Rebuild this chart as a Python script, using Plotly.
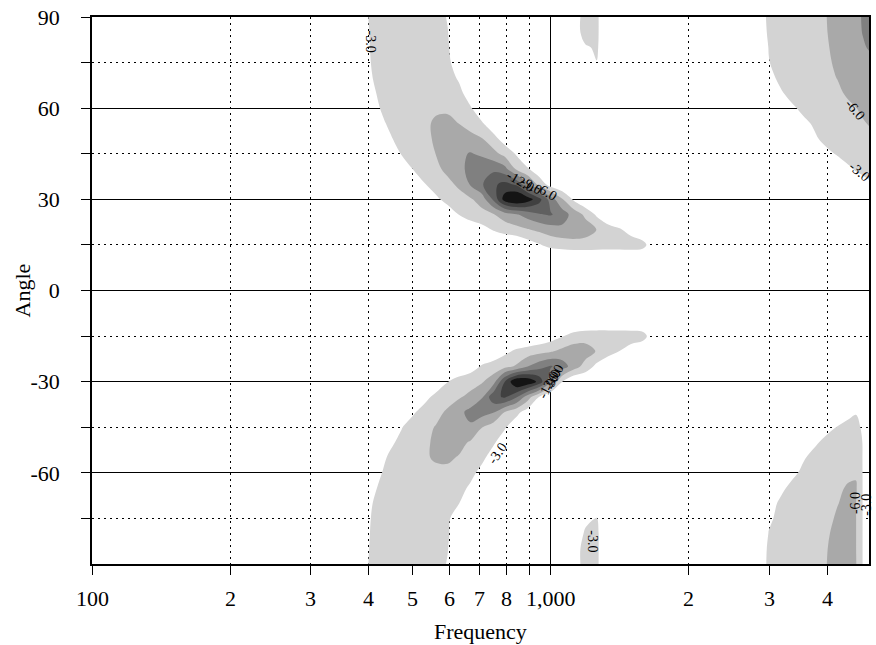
import math
import plotly.graph_objects as go

# ---- data -----------------------------------------------------------------
freqs_hz = [376, 398, 422, 447, 473, 501, 531, 562, 596,
            631, 668, 708, 750, 794, 841, 891, 944, 1000, 1059,
            1122, 1189, 1259, 1334, 1413, 1496, 1585, 1679,
            2818, 2985, 3162, 3350, 3548, 3758, 3981, 4217, 4467, 4624, 4786, 4938]

angles_deg = [-90, -85, -80, -75, -70, -65, -60, -55, -50, -45, -40, -35, -30,
              -25, -20, -15, -10, -5, 0, 5, 10, 15, 20, 25, 30, 35, 40, 45,
              50, 55, 60, 65, 70, 75, 80, 85, 90]

# level (dB) per angle row (ascending angle), per frequency column
level_db = [
    # -90
    [0, -2.9, -4.0, -4.4, -4.5, -4.5, -4.4, -4.2, -2.8,
     0, 0, 0, 0, 0, 0, 0, 0, 0, 0,
     -1.5, -4.1, -3.4, -1.0, 0, 0, 0, 0,
     0, -3.8, -4.4, -4.9, -5.3, -5.6, -5.95, -6.7, -7.2, -6.2, -2.9, 0],
    # -85
    [0, -2.8, -4.0, -4.4, -4.5, -4.5, -4.4, -4.3, -3.1,
     -0.5, 0, 0, 0, 0, 0, 0, 0, 0, 0,
     -1.5, -4.1, -3.4, -1.0, 0, 0, 0, 0,
     0, -3.6, -4.3, -4.8, -5.2, -5.5, -5.9, -6.6, -7.0, -6.1, -2.9, 0],
    # -80
    [0, -2.7, -4.0, -4.4, -4.6, -4.6, -4.5, -4.3, -3.4,
     -0.5, 0, 0, 0, 0, 0, 0, 0, 0, 0,
     -1.3, -3.3, -3.4, -1.0, 0, 0, 0, 0,
     0, -3.1, -4.1, -4.6, -5.0, -5.4, -5.8, -6.4, -6.8, -6.1, -2.9, 0],
    # -75
    [0, -2.6, -3.9, -4.3, -4.5, -4.6, -4.5, -4.2, -3.5,
     -1.2, 0, 0, 0, 0, 0, 0, 0, 0, 0,
     -0.5, -2.5, -3.1, -0.8, 0, 0, 0, 0,
     0, -2.6, -3.6, -4.3, -4.8, -5.2, -5.6, -6.2, -6.6, -6.1, -2.9, 0],
    # -70
    [0, -2.3, -3.8, -4.4, -4.7, -4.8, -4.8, -4.6, -4.0,
     -3.05, -0.8, 0, 0, 0, 0, 0, 0, 0, 0,
     0, -1.0, -1.5, 0, 0, 0, 0, 0,
     0, -2.2, -3.3, -4.0, -4.6, -5.0, -5.4, -5.95, -6.4, -6.05, -2.9, 0],
    # -65
    [0, -2.0, -3.2, -4.2, -4.7, -5.0, -5.1, -5.0, -4.8,
     -4.0, -2.5, 0, 0, 0, 0, 0, 0, 0, 0,
     0, 0, 0, 0, 0, 0, 0, 0,
     0, -1.5, -2.5, -3.5, -4.2, -4.7, -5.1, -5.6, -6.3, -6.4, -2.9, 0],
    # -60
    [0, -1.5, -2.7, -3.8, -4.5, -4.9, -5.2, -5.4, -5.4,
     -5.0, -3.9, -2.0, 0, 0, 0, 0, 0, 0, 0,
     0, 0, 0, 0, 0, 0, 0, 0,
     0, -0.8, -1.7, -2.5, -3.4, -4.2, -4.7, -5.1, -5.5, -5.6, -2.9, 0],
    # -55
    [0, -1.0, -2.2, -3.4, -4.3, -5.0, -5.7, -6.3, -6.4,
     -5.8, -4.9, -3.7, -1.5, 0, 0, 0, 0, 0, 0,
     0, 0, 0, 0, 0, 0, 0, 0,
     0, 0, -0.8, -1.8, -2.8, -3.6, -4.2, -4.6, -4.9, -5.0, -2.9, 0],
    # -50
    [0, -0.6, -1.3, -2.6, -3.6, -4.6, -5.5, -6.5, -7.0,
     -6.8, -5.7, -4.6, -3.4, -1.2, 0, 0, 0, 0, 0,
     0, 0, 0, 0, 0, 0, 0, 0,
     0, 0, 0, -1.0, -2.0, -2.7, -3.5, -4.0, -4.4, -4.5, -2.9, 0],
    # -45
    [0, -0.3, -0.8, -1.6, -2.9, -4.0, -5.1, -6.2, -7.3,
     -8.4, -8.6, -6.05, -4.5, -3.3, -1.0, 0, 0, 0, 0,
     0, 0, 0, 0, 0, 0, 0, 0,
     0, 0, 0, 0, -0.8, -1.5, -2.4, -3.1, -3.7, -3.9, -2.5, 0],
    # -40
    [0, 0, -0.3, -0.8, -1.5, -2.7, -3.9, -5.0, -6.5,
     -8.3, -9.8, -10.3, -9.3, -5.95, -4.0, -1.5, 0, 0, 0,
     0, 0, 0, 0, 0, 0, 0, 0,
     0, 0, 0, 0, 0, 0, -0.8, -1.5, -2.4, -2.8, -1.8, 0],
    # -35
    [0, 0, 0, -0.3, -0.6, -1.2, -2.3, -3.6, -4.6,
     -5.6, -6.9, -8.8, -14.0, -15.5, -12.5, -7.5, -2.95, 0, 0,
     0, 0, 0, 0, 0, 0, 0, 0,
     0, 0, 0, 0, 0, 0, 0, 0, -1.0, -1.3, -0.8, 0],
    # -30
    [0, 0, 0, 0, -0.3, -0.6, -1.0, -1.5, -2.95,
     -3.9, -4.6, -5.7, -7.8, -15.0, -21.0, -20.5, -17.0, -9.5, -3.05,
     0, 0, 0, 0, 0, 0, 0, 0,
     0, 0, 0, 0, 0, 0, 0, 0, 0, 0, 0, 0],
    # -25
    [0, 0, 0, 0, 0, 0, -0.2, -0.5, -0.8,
     -1.2, -1.8, -3.3, -4.2, -5.2, -6.4, -9.05, -11.0, -12.3, -10.5,
     -7.5, -4.8, -2.2, 0, 0, 0, 0, 0,
     0, 0, 0, 0, 0, 0, 0, 0, 0, 0, 0, 0],
    # -20
    [0, 0, 0, 0, 0, 0, 0, 0, 0,
     -0.2, -0.4, -0.6, -1.0, -2.3, -3.5, -4.3, -5.0, -5.7, -6.8,
     -7.8, -7.5, -5.8, -4.5, -2.95, -1.5, -0.5, 0,
     0, 0, 0, 0, 0, 0, 0, 0, 0, 0, 0, 0],
    # -15
    [0, 0, 0, 0, 0, 0, 0, 0, 0,
     0, 0, 0, 0, 0, 0, 0, -0.5, -1.5, -2.8,
     -4.0, -4.6, -4.8, -4.8, -4.7, -4.6, -4.2, -1.0,
     0, 0, 0, 0, 0, 0, 0, 0, 0, 0, 0, 0],
    # -10
    [0, 0, 0, 0, 0, 0, 0, 0, 0,
     0, 0, 0, 0, 0, 0, 0, 0, 0, 0,
     0, 0, 0, 0, 0, 0, 0, 0,
     0, 0, 0, 0, 0, 0, 0, 0, 0, 0, 0, 0],
    # -5
    [0, 0, 0, 0, 0, 0, 0, 0, 0,
     0, 0, 0, 0, 0, 0, 0, 0, 0, 0,
     0, 0, 0, 0, 0, 0, 0, 0,
     0, 0, 0, 0, 0, 0, 0, 0, 0, 0, 0, 0],
    # 0
    [0, 0, 0, 0, 0, 0, 0, 0, 0,
     0, 0, 0, 0, 0, 0, 0, 0, 0, 0,
     0, 0, 0, 0, 0, 0, 0, 0,
     0, 0, 0, 0, 0, 0, 0, 0, 0, 0, 0, 0],
    # 5
    [0, 0, 0, 0, 0, 0, 0, 0, 0,
     0, 0, 0, 0, 0, 0, 0, 0, 0, 0,
     0, 0, 0, 0, 0, 0, 0, 0,
     0, 0, 0, 0, 0, 0, 0, 0, 0, 0, 0, 0],
    # 10
    [0, 0, 0, 0, 0, 0, 0, 0, 0,
     0, 0, 0, 0, 0, 0, 0, 0, 0, 0,
     0, 0, 0, 0, 0, 0, 0, 0,
     0, 0, 0, 0, 0, 0, 0, 0, 0, 0, 0, 0],
    # 15
    [0, 0, 0, 0, 0, 0, 0, 0, 0,
     0, 0, 0, 0, 0, 0, -1.5, -2.8, -3.8, -4.2,
     -4.5, -4.5, -4.4, -4.3, -4.3, -4.4, -4.0, -1.0,
     0, 0, 0, 0, 0, 0, 0, 0, 0, 0, 0, 0],
    # 20
    [0, 0, 0, 0, 0, 0, 0, -0.3, -0.6,
     -1.0, -1.5, -2.0, -3.2, -4.2, -5.0, -5.8, -6.6, -7.5, -8.2,
     -8.3, -7.6, -5.95, -4.6, -3.3, -2.0, -0.5, 0,
     0, 0, 0, 0, 0, 0, 0, 0, 0, 0, 0, 0],
    # 25
    [0, 0, 0, 0, 0, -0.2, -0.5, -1.0, -1.5,
     -3.05, -4.0, -4.9, -5.8, -7.5, -8.7, -10.3, -11.8, -12.3, -10.5,
     -7.8, -5.4, -2.5, 0, 0, 0, 0, 0,
     0, 0, 0, 0, 0, 0, 0, 0, 0, 0, 0, 0],
    # 30
    [0, 0, 0, 0, -0.3, -0.6, -1.0, -2.5, -3.9,
     -4.8, -5.6, -7.5, -12.5, -19.5, -21.5, -19.5, -16.0, -10.5, -6.3,
     -2.5, 0, 0, 0, 0, 0, 0, 0,
     0, 0, 0, 0, 0, 0, 0, 0, -0.5, -0.8, -1.2, -1.5],
    # 35
    [0, 0, 0, -0.3, -0.8, -1.8, -2.9, -4.2, -5.2,
     -6.6, -9.3, -11.7, -14.5, -15.8, -14.5, -9.6, -5.0, -1.5, 0,
     0, 0, 0, 0, 0, 0, 0, 0,
     0, 0, 0, 0, 0, 0, 0, -0.8, -1.5, -1.9, -2.3, -2.7],
    # 40
    [0, 0, -0.3, -1.0, -2.0, -3.05, -4.2, -5.3, -6.8,
     -8.2, -9.8, -11.0, -11.3, -10.0, -5.5, -3.3, -0.8, 0, 0,
     0, 0, 0, 0, 0, 0, 0, 0,
     0, 0, 0, 0, 0, 0, -1.0, -1.8, -2.7, -3.2, -3.5, -3.8],
    # 45
    [0, 0, -0.8, -2.0, -3.1, -4.2, -5.2, -6.05, -7.3,
     -8.4, -9.2, -8.5, -7.0, -5.0, -2.7, 0, 0, 0, 0,
     0, 0, 0, 0, 0, 0, 0, 0,
     0, 0, 0, 0, -0.8, -1.5, -2.5, -3.2, -3.9, -4.2, -4.5, -4.7],
    # 50
    [0, -0.5, -1.5, -2.8, -3.8, -4.8, -5.5, -6.3, -7.2,
     -7.5, -7.0, -6.1, -4.0, -1.5, 0, 0, 0, 0, 0,
     0, 0, 0, 0, 0, 0, 0, 0,
     0, 0, -0.5, -1.0, -2.0, -2.7, -3.6, -4.3, -4.8, -5.0, -5.3, -5.5],
    # 55
    [0, -1.0, -2.4, -3.4, -4.2, -4.8, -5.5, -6.4, -6.6,
     -5.95, -4.8, -3.3, -1.0, 0, 0, 0, 0, 0, 0,
     0, 0, 0, 0, 0, 0, 0, 0,
     0, -0.5, -1.2, -1.5, -2.5, -3.3, -4.1, -4.8, -5.3, -5.6, -5.85, -6.1],
    # 60
    [0, -1.5, -2.9, -4.0, -4.6, -5.0, -5.3, -5.6, -5.6,
     -5.0, -3.3, -1.0, 0, 0, 0, 0, 0, 0, 0,
     0, 0, 0, 0, 0, 0, 0, 0,
     0, -1.0, -1.8, -2.6, -3.5, -4.3, -4.9, -5.3, -5.7, -5.95, -6.3, -6.6],
    # 65
    [0, -2.0, -3.3, -4.2, -4.8, -5.1, -5.3, -5.3, -5.0,
     -3.8, -1.5, 0, 0, 0, 0, 0, 0, 0, 0,
     0, 0, 0, 0, 0, 0, 0, 0,
     0, -1.6, -2.7, -3.7, -4.4, -4.9, -5.3, -5.7, -6.3, -6.6, -7.0, -7.3],
    # 70
    [0, -2.3, -3.8, -4.4, -4.7, -4.9, -5.0, -4.9, -4.2,
     -2.6, 0, 0, 0, 0, 0, 0, 0, 0, 0,
     0, 0, 0, 0, 0, 0, 0, 0,
     0, -2.3, -3.5, -4.2, -4.8, -5.2, -5.6, -6.05, -6.7, -7.1, -7.4, -7.7],
    # 75
    [0, -2.6, -3.9, -4.4, -4.6, -4.7, -4.6, -4.4, -3.6,
     -1.5, 0, 0, 0, 0, 0, 0, 0, 0, 0,
     -0.5, -2.0, -2.95, -0.8, 0, 0, 0, 0,
     0, -2.9, -3.9, -4.5, -5.0, -5.4, -5.7, -6.3, -7.1, -7.5, -7.9, -8.3],
    # 80
    [0, -2.7, -4.0, -4.4, -4.6, -4.6, -4.5, -4.3, -3.4,
     -0.5, 0, 0, 0, 0, 0, 0, 0, 0, 0,
     -1.0, -2.7, -3.3, -1.0, 0, 0, 0, 0,
     0, -3.1, -4.1, -4.7, -5.2, -5.5, -5.8, -6.5, -7.4, -8.0, -8.7, -9.2],
    # 85
    [0, -2.8, -4.0, -4.4, -4.5, -4.5, -4.4, -4.3, -3.1,
     -0.5, 0, 0, 0, 0, 0, 0, 0, 0, 0,
     -1.5, -4.1, -3.4, -1.0, 0, 0, 0, 0,
     0, -3.6, -4.3, -4.9, -5.3, -5.6, -5.9, -6.7, -7.7, -8.3, -9.1, -9.6],
    # 90
    [0, -2.9, -4.0, -4.4, -4.5, -4.5, -4.4, -4.2, -2.8,
     0, 0, 0, 0, 0, 0, 0, 0, 0, 0,
     -1.5, -4.1, -3.4, -1.0, 0, 0, 0, 0,
     0, -3.95, -4.5, -5.0, -5.4, -5.7, -5.95, -6.8, -7.8, -8.4, -9.2, -9.9],
]

contour_levels = [-3, -6, -9, -12, -15, -18]
level_colors = ['#d3d3d3', '#a9a9a9', '#808080', '#606060', '#404040', '#141414']

# contour value labels: text, frequency (Hz), angle (deg), rotation
label_text = ['-3.0', '-12.0', '-9.0', '-6.0', '-3.0', '-12.0', '-9.0', '-6.0',
              '-6.0', '-3.0', '-6.0', '-3.0', '-3.0']
label_freq = [405, 860, 905, 975, 764, 990, 1005, 1020, 4600, 4700, 4600, 4890, 1235]
label_angle = [82, 36.0, 34.5, 32.5, -53.5, -31.0, -29.5, -28.0, 59.5, 39.0, -70.0, -70.5, -82.5]
label_rot = [90, 30, 30, 30, -55, -62, -62, -62, 50, 40, -90, -90, 90]

x_major_vals = [100, 1000]
x_minor_vals = [200, 300, 400, 500, 600, 700, 800, 900, 2000, 3000, 4000]
x_label_vals = [100, 200, 300, 400, 500, 600, 700, 800, 1000, 2000, 3000, 4000]
x_label_text = ['100', '2', '3', '4', '5', '6', '7', '8', '1,000', '2', '3', '4']
y_major_vals = [-60, -30, 0, 30, 60, 90]
y_major_text = ['-60', '-30', '0', '30', '60', '90']
y_minor_vals = [-75, -45, -15, 15, 45, 75]

# attenuation (positive dB) so that each shaded region is "attenuation >= level"
attenuation_db = [[-v for v in row] for row in level_db]

# ---- figure ---------------------------------------------------------------
SERIF = 'Liberation Serif'
fig = go.Figure()

for lev, col in zip(contour_levels, level_colors):
    fig.add_trace(go.Contour(
        x=freqs_hz, y=angles_deg, z=attenuation_db,
        contours=dict(type='constraint', operation='<', value=-lev),
        fillcolor=col, line=dict(width=0, color=col), connectgaps=True,
        showscale=False, hoverinfo='skip'))

for txt, fx, ay, rot in zip(label_text, label_freq, label_angle, label_rot):
    fig.add_annotation(x=math.log10(fx), y=ay, xref='x', yref='y', text=txt,
                       showarrow=False, textangle=rot,
                       font=dict(family=SERIF, size=14, color='black'))

# x tick labels and axis titles
for v, t in zip(x_label_vals, x_label_text):
    fig.add_annotation(x=math.log10(v), y=0, xref='x', yref='paper', text=t,
                       showarrow=False, yanchor='middle', yshift=-34,
                       font=dict(family=SERIF, size=22, color='black'))
fig.add_annotation(x=0.5, y=0, xref='paper', yref='paper', text='Frequency',
                   showarrow=False, yanchor='middle', yshift=-67,
                   font=dict(family=SERIF, size=22, color='black'))
fig.add_annotation(x=0, y=0.5, xref='paper', yref='paper', text='Angle',
                   showarrow=False, xanchor='center', xshift=-70, textangle=-90,
                   font=dict(family=SERIF, size=22, color='black'))

fig.update_layout(
    width=876, height=645,
    margin=dict(l=92, r=5, t=13, b=81),
    plot_bgcolor='white', paper_bgcolor='white',
    showlegend=False,
    font=dict(family=SERIF, color='black'),
)

fig.update_xaxes(
    type='log', range=[2, math.log10(4938)],
    tickmode='array', tickvals=x_major_vals, showticklabels=False,
    ticks='outside', ticklen=9, tickcolor='black', tickwidth=1,
    showgrid=True, gridcolor='black', gridwidth=1,
    minor=dict(tickmode='array', tickvals=x_minor_vals, ticks='outside', ticklen=9,
               tickcolor='black', showgrid=True, gridcolor='black', gridwidth=1,
               griddash='2px,4px'),
    showline=True, mirror=True, linecolor='black', linewidth=1.5,
    zeroline=False,
)

fig.update_yaxes(
    range=[-90, 90],
    tickmode='array', tickvals=y_major_vals, ticktext=y_major_text,
    ticks='outside', ticklen=9, tickcolor='black', tickwidth=1,
    tickfont=dict(family=SERIF, size=22, color='black'),
    ticklabelstandoff=17,
    showgrid=True, gridcolor='black', gridwidth=1,
    minor=dict(tickmode='array', tickvals=y_minor_vals, ticks='outside', ticklen=9,
               tickcolor='black', showgrid=True, gridcolor='black', gridwidth=1,
               griddash='2px,4px'),
    showline=True, mirror=True, linecolor='black', linewidth=1.5,
    zeroline=False,
)

fig.write_html('out.html')
